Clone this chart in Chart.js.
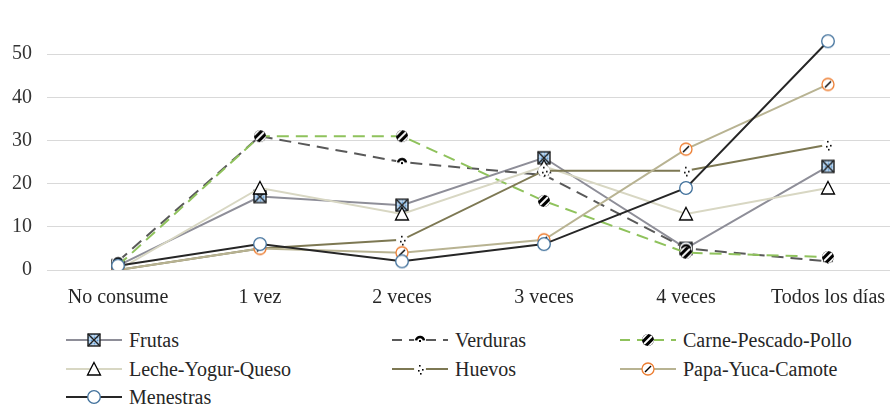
<!DOCTYPE html>
<html lang="es">
<head>
  <meta charset="UTF-8">
  <title>Frecuencia de consumo</title>
  <script src="https://cdn.jsdelivr.net/npm/chart.js"></script>
  <style>
    body {
      margin: 0;
      padding: 0;
      background: #fff;
      width: 890px;
      height: 407px;
      overflow: hidden;
      position: relative;
      font-family: "Liberation Serif", "DejaVu Serif", serif;
    }
    .chart-box {
      position: absolute;
      left: 0;
      top: 0;
      width: 910px;
      height: 310px;
    }
    .legend-item {
      position: absolute;
      height: 28px;
      display: flex;
      align-items: center;
      font-size: 20px;
      color: #262626;
      white-space: nowrap;
    }
    .legend-item canvas { margin-right: 7px; }
  </style>
</head>
<body>
  <div class="chart-box"><canvas id="lineChart" width="910" height="310"></canvas></div>
  <div id="legend"></div>

  <script>
    // categorias y valores (%)
    const categories = ['No consume', '1 vez', '2 veces', '3 veces', '4 veces', 'Todos los días'];
    const yTicks = [0, 10, 20, 30, 40, 50];

    const frutas    = [1, 17, 15, 26, 5, 24];
    const verduras  = [2, 31, 25, 22, 5, 2];
    const carne     = [1, 31, 31, 16, 4, 3];
    const leche     = [0, 19, 13, 24, 13, 19];
    const huevos    = [0, 5, 7, 23, 23, 29];
    const papa      = [0, 5, 4, 7, 28, 43];
    const menestras = [1, 6, 2, 6, 19, 53];

    const seriesNames = ['Frutas', 'Verduras', 'Carne-Pescado-Pollo', 'Leche-Yogur-Queso', 'Huevos', 'Papa-Yuca-Camote', 'Menestras'];
    const seriesData = [frutas, verduras, carne, leche, huevos, papa, menestras];

    // marker images
    function makeMarker(kind) {
      const c = document.createElement('canvas');
      c.width = 16; c.height = 16;
      const g = c.getContext('2d');
      const cx = 8, cy = 8;
      g.lineWidth = 1;
      if (kind === 'frutas') {
        g.fillStyle = '#5b9bd5';
        g.fillRect(2, 2, 12, 12);
        g.strokeStyle = '#dfe9f5';
        g.beginPath();
        for (let i = 4; i < 14; i += 3) { g.moveTo(i, 2); g.lineTo(i, 14); g.moveTo(2, i); g.lineTo(14, i); }
        g.stroke();
        g.strokeStyle = '#1f1f1f';
        g.lineWidth = 1.4;
        g.beginPath();
        g.moveTo(2, 2); g.lineTo(14, 14); g.moveTo(14, 2); g.lineTo(2, 14);
        g.stroke();
        g.strokeRect(2, 2, 12, 12);
      } else if (kind === 'verduras') {
        g.fillStyle = '#fff';
        g.beginPath(); g.arc(cx, cy, 6, 0, Math.PI * 2); g.fill();
        g.strokeStyle = '#000';
        g.lineWidth = 2.5;
        g.beginPath(); g.arc(cx, cy + 1, 4, Math.PI * 1.05, Math.PI * 1.95); g.stroke();
        g.fillStyle = '#000';
        g.fillRect(cx - 1, cy, 2, 2);
      } else if (kind === 'carne') {
        g.fillStyle = '#000';
        g.beginPath(); g.arc(cx, cy, 6, 0, Math.PI * 2); g.fill();
        g.save();
        g.beginPath(); g.arc(cx, cy, 6, 0, Math.PI * 2); g.clip();
        g.strokeStyle = '#fff';
        g.lineWidth = 1.8;
        g.beginPath();
        g.moveTo(2, 7); g.lineTo(9, 0);
        g.moveTo(7, 16); g.lineTo(16, 7);
        g.moveTo(4, 12); g.lineTo(12, 4);
        g.stroke();
        g.restore();
      } else if (kind === 'leche') {
        g.fillStyle = '#fff';
        g.strokeStyle = '#000';
        g.lineWidth = 1.3;
        g.beginPath(); g.moveTo(cx, 1.5); g.lineTo(14.5, 14); g.lineTo(1.5, 14); g.closePath();
        g.fill(); g.stroke();
      } else if (kind === 'huevos') {
        g.fillStyle = '#fff';
        g.beginPath(); g.arc(cx, cy, 6, 0, Math.PI * 2); g.fill();
        g.fillStyle = '#000';
        [[7, 4], [10, 8], [6, 9], [8, 12]].forEach(p => g.fillRect(p[0], p[1], 1.6, 1.6));
      } else if (kind === 'papa') {
        g.fillStyle = '#fff';
        g.strokeStyle = '#ed7d31';
        g.lineWidth = 1.3;
        g.beginPath(); g.arc(cx, cy, 6, 0, Math.PI * 2); g.fill(); g.stroke();
        g.strokeStyle = '#000';
        g.lineWidth = 1.5;
        g.beginPath(); g.moveTo(5, 11); g.lineTo(11, 5); g.stroke();
      } else if (kind === 'menestras') {
        g.fillStyle = '#fff';
        g.strokeStyle = '#41719c';
        g.lineWidth = 1.3;
        g.beginPath(); g.arc(cx, cy, 6.3, 0, Math.PI * 2); g.fill(); g.stroke();
      }
      return c;
    }

    const styles = [
      { color: '#8e8e98', dash: [],      marker: 'frutas' },
      { color: '#595959', dash: [12, 7], marker: 'verduras' },
      { color: '#8fc25c', dash: [12, 7], marker: 'carne' },
      { color: '#d8d7c3', dash: [],      marker: 'leche' },
      { color: '#7d7853', dash: [],      marker: 'huevos' },
      { color: '#b8b392', dash: [],      marker: 'papa' },
      { color: '#262626', dash: [],      marker: 'menestras' }
    ];
    styles.forEach(s => s.img = makeMarker(s.marker));

    const datasets = seriesNames.map((name, i) => ({
      label: name,
      data: seriesData[i],
      borderColor: styles[i].color,
      borderWidth: 2,
      borderDash: styles[i].dash,
      pointStyle: styles[i].img,
      pointRadius: 7,
      fill: false,
      tension: 0,
      order: seriesNames.length - i   // first series drawn underneath
    }));

    const serif = '"Liberation Serif", "DejaVu Serif", serif';

    new Chart(document.getElementById('lineChart'), {
      type: 'line',
      data: { labels: categories, datasets: datasets },
      options: {
        responsive: false,
        animation: false,
        layout: { padding: { top: 11, right: 11, left: 0, bottom: 0 } },
        plugins: {
          legend: { display: false },
          tooltip: { enabled: false }
        },
        scales: {
          x: {
            offset: true,
            grid: { display: false, drawTicks: false },
            border: { color: '#d9d9d9', width: 1 },
            ticks: { font: { family: serif, size: 20 }, color: '#262626', padding: 16, maxRotation: 0 },
            afterFit: s => { s.height = 40; }
          },
          y: {
            min: 0,
            max: 60,
            afterFit: s => { s.width = 47; s.paddingTop = 0; s.paddingBottom = 0; },
            grid: {
              color: ctx => (ctx.tick && ctx.tick.value > 50) ? 'rgba(0,0,0,0)' : '#d9d9d9',
              drawTicks: false
            },
            border: { display: false },
            ticks: {
              stepSize: 10,
              padding: 15,
              font: { family: serif, size: 20 },
              color: '#333',
              callback: v => yTicks.includes(v) ? v : ''
            }
          }
        }
      }
    });

    // legend
    const legendPos = [
      [66, 326], [392, 326], [620, 326],
      [66, 355], [392, 355], [620, 355],
      [66, 383]
    ];
    const legend = document.getElementById('legend');
    seriesNames.forEach((name, i) => {
      const item = document.createElement('div');
      item.className = 'legend-item';
      item.style.left = legendPos[i][0] + 'px';
      item.style.top = legendPos[i][1] + 'px';
      const c = document.createElement('canvas');
      c.width = 56; c.height = 20;
      const g = c.getContext('2d');
      g.strokeStyle = styles[i].color;
      g.lineWidth = 2;
      g.setLineDash(styles[i].dash.length ? [10, 7] : []);
      g.beginPath(); g.moveTo(0, 10); g.lineTo(56, 10); g.stroke();
      g.drawImage(styles[i].img, 20, 2);
      item.appendChild(c);
      item.appendChild(document.createTextNode(name));
      legend.appendChild(item);
    });
  </script>
</body>
</html>
